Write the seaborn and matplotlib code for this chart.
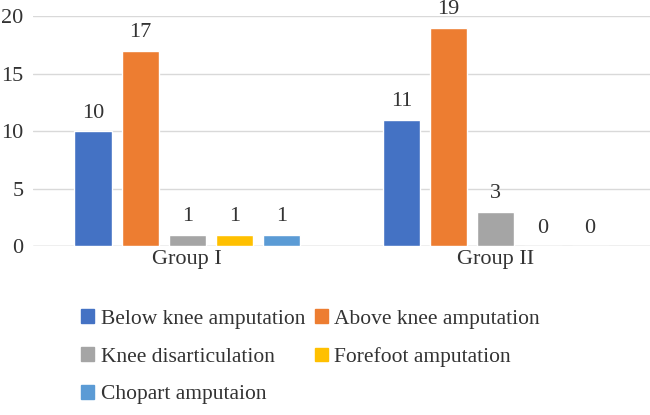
import pandas as pd
import numpy as np
import matplotlib.pyplot as plt
import seaborn as sns

groups = ["Group I", "Group II"]
types = ["Below knee amputation", "Above knee amputation", "Knee disarticulation",
         "Forefoot amputation", "Chopart amputaion"]
group1 = [10, 17, 1, 1, 1]
group2 = [11, 19, 3, 0, 0]
colors = ["#4472C4", "#ED7D31", "#A5A5A5", "#FFC000", "#5B9BD5"]

rows = []
for g, vals in zip(groups, [group1, group2]):
    for t, v in zip(types, vals):
        rows.append({"group": g, "type": t, "count": v})
df = pd.DataFrame(rows)

sns.set_style("white")
plt.rcParams['font.family'] = ['Liberation Serif', 'DejaVu Serif']

fig = plt.figure(figsize=(6.5, 4.15), dpi=100)
ax = fig.add_axes([0.051, 0.407, 0.949, 0.554])

sns.barplot(data=df, x="group", y="count", hue="type", hue_order=types,
            palette=colors, width=0.765, gap=0.21, saturation=1,
            legend=False, ax=ax)

for cont in ax.containers:
    ax.bar_label(cont, padding=6, fontsize=16, color="#333333")

ax.set_ylim(0, 20)
ax.set_yticks([0, 5, 10, 15, 20])
ax.set_xlim(-0.5, 1.5)
ax.grid(axis="y", color="#d9d9d9", linewidth=1)
ax.set_axisbelow(True)
for s in ax.spines.values():
    s.set_visible(False)
ax.axhline(0, color="#d0d0d0", linewidth=1, zorder=0.5)
ax.tick_params(axis="both", length=0, labelsize=16, labelcolor="#333333", pad=3)
ax.tick_params(axis="y", pad=7)
ax.set_xlabel("")
ax.set_ylabel("")

# legend laid out like the original: rows of two
handles = [plt.Rectangle((0, 0), 1, 1, color=c) for c in colors]
order = [0, 2, 4, 1, 3]
fig.legend([handles[i] for i in order], [types[i] for i in order],
           loc="upper left", bbox_to_anchor=(0.112, 0.275), ncol=2,
           frameon=False, fontsize=15.5, labelcolor="#333333",
           handlelength=0.6, handleheight=0.6, handletextpad=0.3,
           columnspacing=0.45, labelspacing=0.85, borderaxespad=0)

fig.savefig("out.png", dpi=100)
